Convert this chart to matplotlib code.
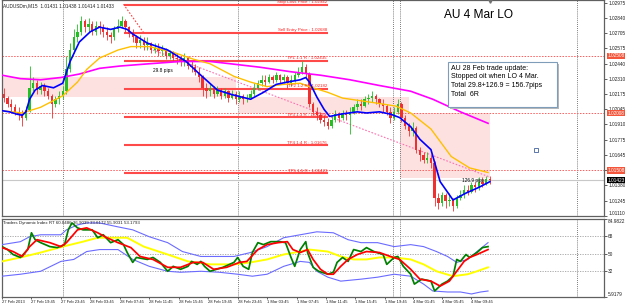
import matplotlib
matplotlib.use("Agg")
import matplotlib.pyplot as plt
from matplotlib.patches import Rectangle

plt.rcParams['font.family'] = ['Liberation Sans', 'DejaVu Sans']

# ---- price data: 30 min candles (x in M15 bars, candle i sits at bar 2*i+1)
first_open = 1.0218
closes = [1.0214, 1.0209, 1.0206, 1.0202, 1.0200, 1.0197, 1.0204, 1.0223, 1.0227, 1.0221,
          1.0225, 1.0220, 1.0216, 1.0209, 1.0213, 1.0216, 1.0220, 1.0239, 1.0256, 1.0267,
          1.0272, 1.0281, 1.0276, 1.0279, 1.0272, 1.0277, 1.0276, 1.0272, 1.0269, 1.0267,
          1.0274, 1.0277, 1.0281, 1.0276, 1.0270, 1.0267, 1.0262, 1.0265, 1.0260, 1.0262,
          1.0256, 1.0258, 1.0255, 1.0256, 1.0251, 1.0253, 1.0249, 1.0248, 1.0246, 1.0249,
          1.0242, 1.0241, 1.0237, 1.0232, 1.0223, 1.0220, 1.0223, 1.0218, 1.0221, 1.0216,
          1.0220, 1.0214, 1.0218, 1.0213, 1.0216, 1.0213, 1.0214, 1.0218, 1.0223, 1.0227,
          1.0230, 1.0228, 1.0232, 1.0230, 1.0234, 1.0230, 1.0232, 1.0227, 1.0230, 1.0234,
          1.0237, 1.0241, 1.0235, 1.0209, 1.0202, 1.0199, 1.0195, 1.0193, 1.0190, 1.0195,
          1.0200, 1.0197, 1.0200, 1.0199, 1.0202, 1.0206, 1.0209, 1.0207, 1.0213, 1.0214,
          1.0216, 1.0213, 1.0209, 1.0207, 1.0202, 1.0197, 1.0202, 1.0209, 1.0197, 1.0190,
          1.0185, 1.0188, 1.0169, 1.0164, 1.0160, 1.0162, 1.0157, 1.0127, 1.0122, 1.0129,
          1.0124, 1.0125, 1.0120, 1.0127, 1.0129, 1.0134, 1.0132, 1.0138, 1.0136, 1.0141,
          1.0139, 1.0143, 1.01423]
highs = [1.0223, 1.0216, 1.0213, 1.0209, 1.0206, 1.0204, 1.0207, 1.0242, 1.0232, 1.0230,
         1.0228, 1.0227, 1.0223, 1.0218, 1.0216, 1.0220, 1.0225, 1.0251, 1.0262, 1.0274,
         1.0279, 1.0286, 1.0283, 1.0284, 1.0281, 1.0281, 1.0281, 1.0279, 1.0276, 1.0272,
         1.0277, 1.0283, 1.0286, 1.0283, 1.0277, 1.0274, 1.0269, 1.0269, 1.0267, 1.0267,
         1.0263, 1.0262, 1.0262, 1.0260, 1.0258, 1.0256, 1.0255, 1.0253, 1.0251, 1.0253,
         1.0251, 1.0246, 1.0244, 1.0241, 1.0234, 1.0227, 1.0227, 1.0225, 1.0225, 1.0223,
         1.0223, 1.0221, 1.0221, 1.0220, 1.0220, 1.0218, 1.0218, 1.0221, 1.0227, 1.0230,
         1.0234, 1.0234, 1.0235, 1.0234, 1.0237, 1.0235, 1.0235, 1.0234, 1.0234, 1.0237,
         1.0241, 1.0246, 1.0244, 1.0237, 1.0211, 1.0206, 1.0202, 1.0199, 1.0197, 1.0199,
         1.0204, 1.0202, 1.0204, 1.0204, 1.0206, 1.0209, 1.0213, 1.0213, 1.0216, 1.0218,
         1.0220, 1.0218, 1.0214, 1.0213, 1.0209, 1.0206, 1.0206, 1.0213, 1.0211, 1.0199,
         1.0192, 1.0193, 1.0190, 1.0171, 1.0167, 1.0167, 1.0164, 1.0159, 1.0131, 1.0132,
         1.0131, 1.0131, 1.0127, 1.0129, 1.0134, 1.0138, 1.0138, 1.0141, 1.0141, 1.0145,
         1.0145, 1.0146, 1.0146]
lows = [1.0211, 1.0206, 1.0202, 1.0199, 1.0195, 1.0190, 1.0195, 1.0202, 1.0220, 1.0218,
        1.0218, 1.0216, 1.0213, 1.0197, 1.0206, 1.0209, 1.0213, 1.0218, 1.0237, 1.0253,
        1.0263, 1.0269, 1.0272, 1.0272, 1.0269, 1.0269, 1.0270, 1.0267, 1.0265, 1.0262,
        1.0265, 1.0272, 1.0276, 1.0272, 1.0267, 1.0263, 1.0258, 1.0258, 1.0256, 1.0256,
        1.0253, 1.0253, 1.0251, 1.0251, 1.0248, 1.0248, 1.0246, 1.0244, 1.0242, 1.0242,
        1.0239, 1.0237, 1.0234, 1.0228, 1.0216, 1.0214, 1.0216, 1.0214, 1.0216, 1.0213,
        1.0214, 1.0211, 1.0213, 1.0209, 1.0211, 1.0209, 1.0211, 1.0213, 1.0216, 1.0221,
        1.0225, 1.0225, 1.0227, 1.0227, 1.0228, 1.0227, 1.0227, 1.0223, 1.0225, 1.0228,
        1.0232, 1.0235, 1.0232, 1.0206, 1.0199, 1.0195, 1.0192, 1.0190, 1.0187, 1.0188,
        1.0193, 1.0193, 1.0195, 1.0195, 1.0183, 1.0200, 1.0204, 1.0204, 1.0206, 1.0209,
        1.0211, 1.0209, 1.0206, 1.0202, 1.0199, 1.0192, 1.0195, 1.0200, 1.0193, 1.0187,
        1.0181, 1.0181, 1.0166, 1.0159, 1.0157, 1.0157, 1.0153, 1.0120, 1.0117, 1.0120,
        1.0118, 1.0120, 1.0115, 1.0118, 1.0125, 1.0127, 1.0129, 1.0131, 1.0132, 1.0134,
        1.0136, 1.0138, 1.0139]

# moving averages on the price chart (bar, price)
blue_x = [0, 4, 8, 11, 13, 15, 18, 22, 28, 33, 37, 42, 48, 53, 59, 64, 68, 71, 79, 90,
          100, 108, 117, 125, 135, 142, 149, 155, 162, 165, 167, 171, 175, 178, 184, 193,
          198, 205, 211, 216, 222, 227, 233, 238, 245, 252, 259, 265]
blue_y = [1.0203, 1.0202, 1.0200, 1.0199, 1.0202, 1.0213, 1.0221, 1.0225, 1.0223, 1.0227,
          1.0246, 1.0263, 1.0272, 1.0276, 1.0274, 1.0276, 1.0274, 1.0270, 1.0262, 1.0256,
          1.0246, 1.0234, 1.0221, 1.0217, 1.0213, 1.0219, 1.0226, 1.0228, 1.0230, 1.0232,
          1.0228, 1.0215, 1.0204, 1.0198, 1.0200, 1.0202, 1.0201, 1.0202, 1.0200, 1.0197,
          1.0189, 1.0178, 1.0169, 1.0141, 1.0125, 1.0131, 1.0136, 1.0141]
yellow_x = [0, 11, 21, 33, 41, 46, 53, 63, 70, 80, 93, 104, 113, 126, 135, 144, 153, 162,
            167, 177, 185, 202, 214, 222, 233, 244, 254, 264]
yellow_y = [1.0203, 1.0201, 1.0206, 1.0216, 1.0228, 1.0239, 1.0249, 1.0256, 1.0259, 1.0259,
            1.0254, 1.0248, 1.0244, 1.0233, 1.0228, 1.0224, 1.0226, 1.0227, 1.0224, 1.0219,
            1.0214, 1.0210, 1.0207, 1.0201, 1.0187, 1.0163, 1.0153, 1.0149]
magenta_x = [0, 10, 21, 32, 42, 53, 64, 80, 97, 113, 124, 140, 157, 173, 189, 205, 222,
             234, 249, 264]
magenta_y = [1.0234, 1.0231, 1.0230, 1.0232, 1.0235, 1.0240, 1.0242, 1.0244, 1.0246, 1.0246,
             1.0244, 1.0241, 1.0237, 1.0234, 1.0230, 1.0225, 1.0220, 1.0213, 1.0202, 1.0192]

# trade levels drawn from the swing high
level_prices = [1.02954, 1.02709, 1.02464, 1.02219, 1.01974, 1.01729, 1.01484]
level_names = ["Stop Loss Price : 1.02942", "Sell Entry Price : 1.02688",
               "TP1 1:1 R : 1.02435", "TP2 1:2 R : 1.02182", "TP3 1:3 R : 1.01929",
               "TP4 1:4 R : 1.01676", "TP5 1:5 R : 1.01423"]
level_start, level_end = 66, 177
alert_prices = [1.02508, 1.02008, 1.01508]
last_price = 1.01423

# shaded zones (bar0, bar1, price_lo, price_hi)
zones = [(0, 127, 1.0215, 1.0232), (129, 221, 1.02008, 1.0215), (216, 265, 1.01443, 1.02008)]

# trend lines (bar0, price0, bar1, price1)
steep_line = (66, 1.0296, 77, 1.0271)
channel_line = (77, 1.0259, 265, 1.0145)

# ---- Traders Dynamic Index (bar, value)
up_x = [0, 10, 15, 21, 32, 35, 41, 46, 53, 63, 71, 80, 90, 98, 108, 117, 126, 135, 144, 153,
        162, 171, 180, 188, 195, 204, 213, 222, 229, 236, 242, 247, 253, 258, 264]
up_y = [59, 62, 67, 69, 69, 74, 79, 81, 81, 77, 74, 67, 61, 52, 47, 47, 47, 51, 57, 66,
        69, 72, 71, 64, 61, 61, 57, 59, 57, 52, 47, 41, 44, 52, 61]
lo_x = [0, 10, 21, 32, 39, 46, 53, 63, 71, 80, 90, 97, 108, 118, 128, 136, 144, 153, 162,
        167, 171, 177, 184, 195, 204, 213, 222, 229, 234, 242, 249, 255, 260, 264]
lo_y = [27, 29, 32, 42, 44, 52, 54, 54, 44, 37, 32, 31, 32, 31, 29, 27, 29, 37, 42, 41, 32,
        26, 22, 24, 26, 29, 27, 19, 12, 11, 11, 9, 11, 12]
base_x = [0, 10, 21, 33, 44, 52, 68, 77, 90, 101, 113, 126, 135, 144, 153, 162, 167, 177,
          184, 191, 198, 205, 213, 222, 229, 236, 245, 253, 258, 264]
base_y = [42, 46, 51, 57, 62, 66, 66, 57, 49, 42, 39, 39, 41, 44, 49, 52, 54, 52, 47, 44,
          44, 46, 46, 44, 39, 32, 27, 29, 32, 36]
rsi_x = [0, 3, 6, 10, 14, 16, 18, 21, 26, 30, 34, 36, 38, 41, 44, 49, 52, 55, 59, 63, 66,
         68, 71, 73, 79, 82, 86, 90, 93, 97, 101, 103, 106, 108, 110, 113, 120, 126, 128,
         131, 134, 136, 139, 142, 146, 151, 154, 157, 159, 162, 165, 166, 169, 172, 177,
         180, 182, 185, 188, 191, 195, 198, 202, 207, 209, 213, 215, 218, 222, 224, 228,
         233, 235, 239, 242, 245, 247, 249, 252, 254, 258, 261, 264]
rsi_y = [57, 54, 49, 46, 54, 71, 64, 61, 57, 56, 59, 74, 81, 76, 74, 74, 66, 69, 61, 64, 59,
         51, 41, 46, 44, 46, 41, 32, 37, 34, 37, 42, 39, 42, 37, 32, 36, 41, 46, 37, 34, 51,
         61, 59, 62, 62, 61, 46, 37, 54, 62, 51, 36, 32, 29, 31, 41, 46, 42, 54, 52, 56, 52,
         49, 39, 46, 47, 37, 29, 19, 24, 22, 12, 19, 22, 27, 44, 42, 49, 46, 51, 56, 57]
sig_x = [0, 6, 11, 15, 19, 26, 32, 35, 41, 46, 52, 57, 63, 70, 75, 82, 90, 97, 104, 109,
         115, 122, 129, 133, 139, 144, 150, 155, 158, 162, 166, 169, 173, 177, 180, 184,
         188, 193, 198, 205, 211, 216, 222, 227, 233, 238, 243, 247, 251, 254, 258, 264]
sig_y = [56, 52, 47, 57, 64, 61, 57, 61, 74, 76, 71, 66, 61, 56, 47, 44, 36, 36, 41, 41,
         34, 36, 41, 42, 54, 59, 61, 62, 54, 51, 54, 44, 34, 29, 29, 37, 44, 49, 52, 51, 47,
         44, 34, 24, 22, 17, 22, 32, 42, 46, 49, 54]

time_ticks = [0, 16, 32, 48, 64, 80, 96, 112, 128, 144, 160, 176, 192, 208, 223, 239, 255]
time_labels = ["27 Feb 2013", "27 Feb 19:45", "27 Feb 23:45", "28 Feb 03:45", "28 Feb 07:45",
               "28 Feb 11:45", "28 Feb 15:45", "28 Feb 19:45", "28 Feb 23:45", "1 Mar 03:45",
               "1 Mar 07:45", "1 Mar 11:45", "1 Mar 15:45", "1 Mar 19:45", "4 Mar 01:45",
               "4 Mar 05:45", "4 Mar 09:45"]
separators = [33, 128, 212.5, 216, 312.5]
price_ticks = [1.02975, 1.02840, 1.02705, 1.02575, 1.02440, 1.02310, 1.02175, 1.02045,
               1.01910, 1.01775, 1.01645, 1.01510, 1.01380, 1.01245, 1.01110]
tdi_ticks = [84.9822, 68, 50, 32, 5.9179]

# ---- layout in pixels
W, H = 625, 307
fig = plt.figure(figsize=(W / 100, H / 100), dpi=100)
fig.patch.set_facecolor("white")


def box(x0, y0, x1, y1):
    return [x0 / W, 1 - y1 / H, (x1 - x0) / W, (y1 - y0) / H]


ax = fig.add_axes(box(2, 0, 604, 216))
ax2 = fig.add_axes(box(2, 219, 604, 297), sharex=ax)
XMAX = 327
ax.set_xlim(0, XMAX)
ax.set_ylim(1.01111, 1.02997)
ax2.set_ylim(5.9179, 84.9822)

for a in (ax, ax2):
    for s in a.spines.values():
        s.set_color("#606060")
        s.set_linewidth(0.9)
    a.yaxis.tick_right()
    a.tick_params(axis="y", length=2, width=0.5, pad=1, labelsize=3.4, colors="#202020")
    for sx in separators:
        a.axvline(sx, color="#505050", lw=0.6, ls=(0, (1, 1.5)), zorder=1)

# zones
for b0, b1, p0, p1 in zones:
    ax.add_patch(Rectangle((b0, p0), b1 - b0, p1 - p0, facecolor="#fde1e1",
                           edgecolor="none", zorder=0))

# alert lines
for p in alert_prices:
    ax.axhline(p, color="#ff5c5c", lw=0.7, ls=(0, (1.5, 1.5)), zorder=1)
ax.axhline(last_price, color="#c8c8c8", lw=0.8, zorder=1)

# trade levels
for p, name in zip(level_prices, level_names):
    ax.plot([level_start, level_end], [p, p], color="#ff4a4a", lw=1.5,
            solid_capstyle="butt", zorder=2)
    ax.text(level_end - 0.5, p + 0.00005, name, color="#ff2020", fontsize=3.2,
            ha="right", va="bottom", zorder=6)

# trend lines
ax.plot(steep_line[0::2], steep_line[1::2], color="#ff4040", lw=0.8, ls=(0, (1.5, 1.5)), zorder=3)
ax.plot(channel_line[0::2], channel_line[1::2], color="#ff70b0", lw=0.8, ls=(0, (1.5, 1.5)),
        zorder=3)

# candles
opens = [first_open] + closes[:-1]
for i, (o, c, h, l) in enumerate(zip(opens, closes, highs, lows)):
    x = 2 * i + 1
    col = "#22c022" if c >= o else "#f03030"
    ax.vlines(x, l, h, color=col, lw=0.6, zorder=4)
    lo_b, hi_b = min(o, c), max(o, c)
    ax.bar(x, max(hi_b - lo_b, 0.00004), bottom=lo_b, width=1.3, color=col,
           linewidth=0, zorder=4)

ax.plot(magenta_x, magenta_y, color="#ff00ff", lw=1.2, zorder=5)
ax.plot(yellow_x, yellow_y, color="#ffc000", lw=1.0, zorder=5)
ax.plot(blue_x, blue_y, color="#0000ff", lw=1.2, zorder=5)

# right price scale
ax.set_yticks(price_ticks)
ax.set_yticklabels([f"{t:.5f}" for t in price_ticks])
ax.get_yticklabels()[-1].set_va("bottom")
ax.tick_params(axis="x", bottom=False, labelbottom=False)
for p in alert_prices:
    ax.text(1.006, p, f"{p:.5f}", transform=ax.get_yaxis_transform(), fontsize=3.4,
            color="white", va="center", ha="left", zorder=10,
            bbox=dict(boxstyle="square,pad=0.15", fc="#f5553a", ec="none"))
ax.text(1.006, last_price, f"{last_price:.5f}", transform=ax.get_yaxis_transform(),
        fontsize=3.4, color="white", va="center", ha="left", zorder=10,
        bbox=dict(boxstyle="square,pad=0.15", fc="black", ec="none"))

# chart shift marker at the top
ax.plot([265], [1.02985], marker="v", ms=2.5, color="#707070", zorder=9, clip_on=False)

# texts on price chart
ax.text(0.002, 0.985, "AUDUSDm,M15  1.01431 1.01438 1.01414 1.01433", transform=ax.transAxes,
        fontsize=3.4, va="top", ha="left", color="#202020")
ax.text(0.735, 0.96, "AU 4 Mar LO", transform=ax.transAxes, fontsize=8.6, va="top",
        ha="left", color="black")
# note box with a soft shadow
ax.add_patch(Rectangle((0.744, 0.497), 0.181, 0.208, transform=ax.transAxes,
                       fc="#b8b8b8", ec="none", zorder=7))
ax.add_patch(Rectangle((0.741, 0.505), 0.181, 0.208, transform=ax.transAxes,
                       fc="white", ec="#7f9db9", lw=0.8, zorder=8))
ax.text(0.7465, 0.7, "AU 28 Feb trade update:\nStopped oit when LO 4 Mar.\n"
        "Total 29.8+126.9 = 156.7pips\nTotal  6R", transform=ax.transAxes, fontsize=5,
        va="top", ha="left", color="black", linespacing=1.32, zorder=9)
ax.text(82, 1.0238, "29.8 pips", fontsize=3.4, color="black", ha="left", va="center", zorder=7)
ax.text(250, 1.0142, "126.9 pips", fontsize=3.4, color="black", ha="left", va="center",
        zorder=7)
ax.plot([290], [1.0169], marker="s", ms=3, mfc="white", mec="#4060a0", mew=0.6, zorder=7)

# TDI panel
for lvl in (68, 50, 32):
    ax2.axhline(lvl, color="#a0a0a0", lw=0.6, ls=(0, (1.5, 1.5)), zorder=1)
ax2.plot(up_x, up_y, color="#6b6bff", lw=0.8, zorder=3)
ax2.plot(lo_x, lo_y, color="#6b6bff", lw=0.8, zorder=3)
ax2.plot(base_x, base_y, color="#ffff00", lw=1.4, zorder=3)
ax2.plot(rsi_x, rsi_y, color="#008000", lw=1.25, zorder=4)
ax2.plot(sig_x, sig_y, color="#ff0000", lw=1.25, zorder=5)
ax2.set_yticks(tdi_ticks)
ax2.set_yticklabels(["84.9822", "68", "50", "32", "5.9179"])
ax2.get_yticklabels()[0].set_va("top")
ax2.get_yticklabels()[-1].set_va("bottom")
ax2.text(0.002, 0.97, "Traders Dynamic Index RT 60.0486 36.9039 33.6172 55.9031 53.1793",
         transform=ax2.transAxes, fontsize=3.2, va="top", ha="left", color="#202020")

ax2.set_xticks(time_ticks)
ax2.set_xticklabels(time_labels)
ax2.tick_params(axis="x", length=1.5, width=0.5, pad=0.8, labelsize=3.0, colors="#202020")
for lbl in ax2.get_xticklabels():
    lbl.set_ha("left")

fig.savefig("out.png", dpi=100, facecolor="white")
